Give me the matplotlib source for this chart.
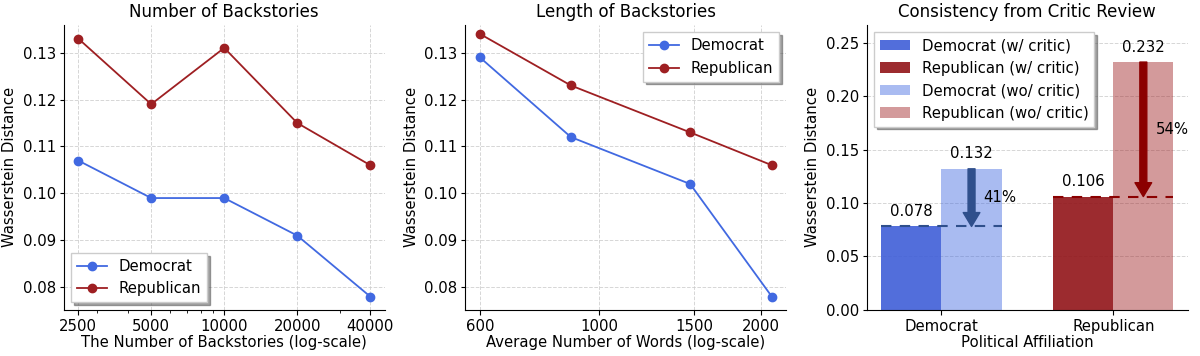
import numpy as np
import matplotlib
matplotlib.use('Agg')
import matplotlib.pyplot as plt
from matplotlib.ticker import FixedLocator, ScalarFormatter, NullLocator, NullFormatter

plt.rcParams['font.family'] = 'DejaVu Sans'

# panel 1: number of backstories
n_backstories = [2500, 5000, 10000, 20000, 40000]
dem_num = [0.107, 0.099, 0.099, 0.091, 0.078]
rep_num = [0.133, 0.119, 0.131, 0.115, 0.106]

# panel 2: length of backstories
avg_words = [600, 886, 1476, 2094]
len_ticks = [600, 1000, 1500, 2000]
dem_len = [0.129, 0.112, 0.102, 0.078]
rep_len = [0.134, 0.123, 0.113, 0.106]

# panel 3: critic review
parties = ['Democrat', 'Republican']
with_critic = [0.078, 0.106]
without_critic = [0.132, 0.232]
reductions = ['41%', '54%']

DEM = '#4169E1'
REP = '#9E1F22'
DEM_BAR = '#3F5ED8'
REP_BAR = '#911418'
DEM_DARK = '#2F4F8C'
REP_DARK = '#8B0000'
FS = 10.7

fig, axes = plt.subplots(1, 3, figsize=(12, 3.56), dpi=100)


def style_ticks(ax):
    ax.tick_params(labelsize=FS)
    ax.tick_params(axis='y', which='major', length=3, pad=2.5)
    ax.tick_params(axis='x', which='major', length=3.5, pad=3)


def style_line_ax(ax):
    ax.spines['top'].set_visible(False)
    ax.spines['right'].set_visible(False)
    ax.grid(True, linestyle='--', color='#cccccc', linewidth=0.7, alpha=0.8)
    ax.set_ylabel('Wasserstein Distance', fontsize=FS)
    ax.set_ylim(0.0752, 0.1359)
    ax.set_yticks([0.08, 0.09, 0.10, 0.11, 0.12, 0.13])
    style_ticks(ax)


ax = axes[0]
ax.plot(n_backstories, dem_num, marker='o', color=DEM, label='Democrat', markersize=6, linewidth=1.3)
ax.plot(n_backstories, rep_num, marker='o', color=REP, label='Republican', markersize=6, linewidth=1.3)
ax.set_xscale('log')
ax.xaxis.set_major_locator(FixedLocator(n_backstories))
ax.xaxis.set_major_formatter(ScalarFormatter())
ax.xaxis.set_minor_formatter(NullFormatter())
style_line_ax(ax)
ax.set_xlabel('The Number of Backstories (log-scale)', fontsize=FS, labelpad=1)
ax.set_title('Number of Backstories', fontsize=12)
ax.legend(loc='lower left', fontsize=FS, shadow=True, fancybox=False)

ax = axes[1]
ax.plot(avg_words, dem_len, marker='o', color=DEM, label='Democrat', markersize=6, linewidth=1.3)
ax.plot(avg_words, rep_len, marker='o', color=REP, label='Republican', markersize=6, linewidth=1.3)
ax.set_xscale('log')
ax.xaxis.set_major_locator(FixedLocator(len_ticks))
ax.xaxis.set_major_formatter(ScalarFormatter())
ax.xaxis.set_minor_locator(NullLocator())
style_line_ax(ax)
ax.set_xlabel('Average Number of Words (log-scale)', fontsize=FS, labelpad=1)
ax.set_title('Length of Backstories', fontsize=12)
ax.legend(loc='upper right', fontsize=FS, shadow=True, fancybox=False)

ax = axes[2]
x = np.arange(len(parties))
w = 0.35
bar_cols = [DEM_BAR, REP_BAR]
light_cols = [DEM, REP]
arrow_cols = [DEM_DARK, REP_DARK]
labels_w = ['Democrat (w/ critic)', 'Republican (w/ critic)']
labels_wo = ['Democrat (wo/ critic)', 'Republican (wo/ critic)']
for i in range(len(parties)):
    ax.bar(x[i] - w / 2, with_critic[i], w, color=bar_cols[i], alpha=0.9, label=labels_w[i])
for i in range(len(parties)):
    ax.bar(x[i] + w / 2, without_critic[i], w, color=light_cols[i], alpha=0.45, label=labels_wo[i])

for i in range(len(parties)):
    ax.text(x[i] - w / 2, with_critic[i] + 0.007, f'{with_critic[i]:.3f}', ha='center', va='bottom', fontsize=FS)
    ax.text(x[i] + w / 2, without_critic[i] + 0.007, f'{without_critic[i]:.3f}', ha='center', va='bottom', fontsize=FS)
    ax.plot([x[i] - w, x[i] + w], [with_critic[i], with_critic[i]], linestyle='--', color=arrow_cols[i],
            linewidth=1.5, dashes=(5, 4))
    ax.annotate('', xy=(x[i] + w / 2, with_critic[i]), xytext=(x[i] + w / 2, without_critic[i]),
                arrowprops=dict(facecolor=arrow_cols[i], edgecolor=arrow_cols[i], width=5, headwidth=12,
                                headlength=10, shrink=0))
    ax.text(x[i] + w / 2 + 0.07, (with_critic[i] + without_critic[i]) / 2, reductions[i],
            ha='left', va='center', fontsize=FS)

ax.set_xticks(x)
ax.set_xticklabels(parties)
ax.set_ylim(0, 0.2668)
ax.set_yticks([0.0, 0.05, 0.10, 0.15, 0.20, 0.25])
ax.set_ylabel('Wasserstein Distance', fontsize=FS)
ax.set_xlabel('Political Affiliation', fontsize=FS, labelpad=1)
ax.set_title('Consistency from Critic Review', fontsize=12)
style_ticks(ax)
ax.spines['top'].set_visible(False)
ax.spines['right'].set_visible(False)
ax.yaxis.grid(True, linestyle='--', color='#cccccc', linewidth=0.7, alpha=0.8)
ax.set_axisbelow(True)
handles, labs = ax.get_legend_handles_labels()
ax.legend(handles, labs, loc='upper left', fontsize=FS, shadow=True, fancybox=False)

fig.subplots_adjust(left=0.053, right=0.99, bottom=0.13, top=0.93, wspace=0.25)
fig.savefig('out.png', dpi=100)
